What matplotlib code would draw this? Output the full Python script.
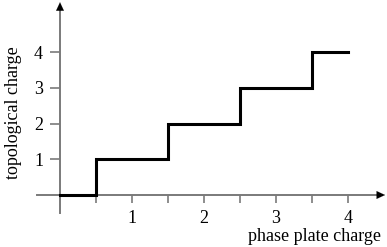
import matplotlib
matplotlib.use('Agg')
import matplotlib.pyplot as plt

# Step data: phase plate charge vs topological charge
phase_charge = [0, 0.5, 1.5, 2.5, 3.5, 4]
topo_charge = [0, 1, 2, 3, 4, 4]

x_major = [1, 2, 3, 4]
x_minor = [0.5, 1.5, 2.5, 3.5]
y_major = [1, 2, 3, 4]

plt.rcParams['font.family'] = 'Liberation Serif'
plt.rcParams['font.size'] = 13

fig = plt.figure(figsize=(3.87, 2.47), dpi=100)
ax = fig.add_axes([0, 0, 1, 1])
ax.set_xlim(-60 / 72, 327 / 72)
ax.set_ylim(-52 / 35.7, 195 / 35.7)

axis_col = '#7a7a7a'
x_tip = 4.515
y_tip = 5.40
for side in ['top', 'right']:
    ax.spines[side].set_visible(False)
ax.spines['bottom'].set_position(('data', 0))
ax.spines['left'].set_position(('data', 0))
ax.spines['bottom'].set_bounds(-0.32, x_tip - 0.05)
ax.spines['left'].set_bounds(-0.5, y_tip - 0.1)
for side in ['bottom', 'left']:
    ax.spines[side].set_color(axis_col)
    ax.spines[side].set_linewidth(1.4)

ax.set_xticks(x_major)
ax.set_xticks(x_minor, minor=True)
ax.set_yticks(y_major)
ax.tick_params(axis='x', which='both', direction='out', length=6, width=1.2,
               color=axis_col, pad=5)
ax.tick_params(axis='y', direction='out', length=7.2, width=1.2,
               color=axis_col, pad=5)
ax.set_facecolor('none')

# arrow heads
head = dict(arrowstyle='-|>,head_length=0.6,head_width=0.28', color='black',
            shrinkA=0, shrinkB=0, mutation_scale=10, linewidth=0.1)
ax.annotate('', xy=(x_tip, 0), xytext=(x_tip - 0.12, 0), arrowprops=head,
            annotation_clip=False)
ax.annotate('', xy=(0, y_tip), xytext=(0, y_tip - 0.25), arrowprops=head,
            annotation_clip=False)

ax.plot(phase_charge, topo_charge, drawstyle='steps-post', color='black',
        linewidth=2.2, solid_joinstyle='miter', zorder=3)

ax.text(381 / 387, 1 - 236 / 247, 'phase plate charge', transform=ax.transAxes,
        ha='right', va='center')
ax.text(14 / 387, 1 - 113 / 247, 'topological charge', transform=ax.transAxes,
        ha='center', va='center', rotation=90)

fig.savefig('out.png', dpi=100)
